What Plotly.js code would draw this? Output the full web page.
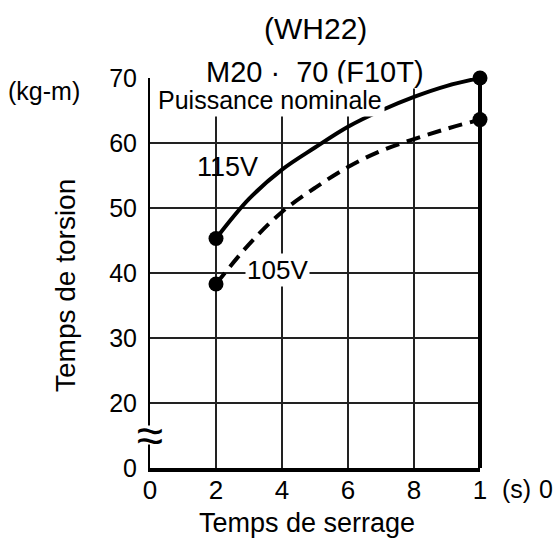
<!DOCTYPE html>
<html>
<head>
<meta charset="utf-8">
<script src="https://cdn.plot.ly/plotly-3.0.1.min.js"></script>
<style>html,body{margin:0;padding:0;background:#fff;}#chart{width:556px;height:540px;}</style>
</head>
<body>
<div id="chart"></div>
<script>
// Data
const timeS = [2, 3, 4, 5, 6, 7, 8, 9, 10];
const torque115V = [45.3, 51.4, 55.9, 59.3, 62.5, 65.0, 67.1, 68.8, 70.0];
const torque105V = [38.3, 44.4, 49.4, 53.1, 56.3, 58.8, 60.6, 62.2, 63.6];
const endX = [2, 10];
const end115V = [45.3, 70.0];
const end105V = [38.3, 63.6];
const xTickVals = [0, 2, 4, 6, 8, 10];
const xTickText = ["0", "2", "4", "6", "8", "1"];
const yTickVals = [10, 20, 30, 40, 50, 60, 70];
const yTickText = ["0", "20", "30", "40", "50", "60", "70"];

const FONT = "Liberation Sans, Arial, Helvetica, sans-serif";

const traces = [
  {x: timeS, y: torque115V, mode: "lines", line: {color: "#000", width: 4, shape: "spline"}, cliponaxis: false, hoverinfo: "skip"},
  {x: timeS, y: torque105V, mode: "lines", line: {color: "#000", width: 4, shape: "spline", dash: "14px,8px"}, cliponaxis: false, hoverinfo: "skip"},
  {x: endX, y: end115V, mode: "markers", marker: {color: "#000", size: 15}, cliponaxis: false, hoverinfo: "skip"},
  {x: endX, y: end105V, mode: "markers", marker: {color: "#000", size: 15}, cliponaxis: false, hoverinfo: "skip"}
];

function ann(text, x, y, size, extra) {
  return Object.assign({text: text, xref: "paper", yref: "paper", x: x, y: y,
    xanchor: "center", yanchor: "middle", showarrow: false, font: {size: size}}, extra || {});
}

const layout = {
  width: 556, height: 540,
  margin: {l: 150, r: 76, t: 78, b: 72},
  paper_bgcolor: "#fff", plot_bgcolor: "#fff",
  showlegend: false,
  font: {family: FONT, color: "#000"},
  xaxis: {
    range: [0, 10], tickvals: xTickVals, ticktext: xTickText,
    showgrid: true, gridcolor: "#222", gridwidth: 1.5,
    zeroline: false, showline: true, linecolor: "#000", linewidth: 4,
    ticks: "", ticklabelstandoff: -4,
    tickfont: {size: 26, family: FONT, color: "#000"}
  },
  yaxis: {
    range: [10, 70], tickvals: yTickVals, ticktext: yTickText,
    showgrid: true, gridcolor: "#222", gridwidth: 1.5,
    zeroline: false, showline: true, linecolor: "#000", linewidth: 2,
    ticks: "", ticklabelstandoff: 6,
    tickfont: {size: 25, family: FONT, color: "#000"}
  },
  shapes: [
    {type: "line", xref: "paper", yref: "paper", x0: 1, x1: 1, y0: 0, y1: 1, line: {color: "#000", width: 4}}
  ],
  annotations: [
    ann("(WH22)", 0.503, 1.126, 30),
    ann("M20 ·  70 (F10T)", 0.5, 1.015, 29, {bgcolor: "#fff", borderpad: 0}),
    ann("Puissance nominale", 0.364, 0.944, 25, {bgcolor: "#fff", borderpad: 2}),
    ann("115V", 0.236, 0.772, 27),
    ann("105V", 0.385, 0.508, 26, {bgcolor: "#fff", borderpad: 1}),
    ann("(kg-m)", -0.321, 0.967, 25),
    ann("≈", 0, 0.085, 48, {bgcolor: "#fff", width: 26, height: 18, borderpad: 0}),
    ann("(s)", 1.112, -0.055, 25),
    ann("0", 1.2, -0.055, 25),
    ann("Temps de torsion", -0.258, 0.469, 28, {textangle: -90}),
    ann("Temps de serrage", 0.477, -0.14, 27)
  ]
};

Plotly.newPlot("chart", traces, layout, {displayModeBar: false, staticPlot: true});
</script>
</body>
</html>
